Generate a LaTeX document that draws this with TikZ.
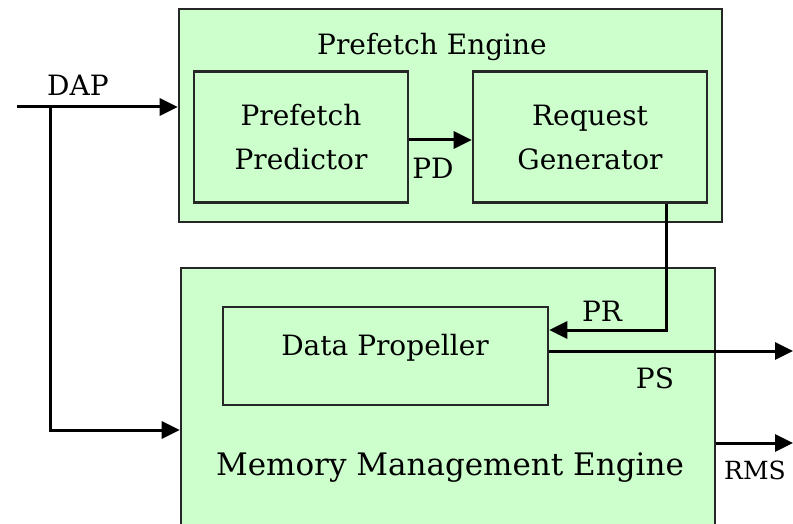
\documentclass[tikz,border=0pt]{standalone}
\usepackage{fontspec}
\setmainfont{DejaVu Serif}
\usetikzlibrary{arrows.meta}
\definecolor{boxgreen}{RGB}{204,255,204}
\tikzset{
  blk/.style={draw=black!85, line width=2.6pt, fill=boxgreen, inner sep=0pt},
  lbl/.style={font=\fontsize{28}{44}\selectfont, inner sep=0pt, align=center},
  arr/.style={line width=3pt, -{Triangle[length=18pt,width=17pt]}},
}
\begin{document}
\begin{tikzpicture}[x=1pt,y=-1pt]
\useasboundingbox (0,0) rectangle (793,524);
\clip (0,0) rectangle (793,524);
% outer blocks
\node[blk, minimum width=543pt, minimum height=213pt] (pe) at (450.5,115.5) {};
\node[blk, minimum width=534pt, minimum height=290pt] (mme) at (448,413) {};
% inner blocks
\node[blk, minimum width=214pt, minimum height=131pt, lbl] (pp) at (301,137) {Prefetch\\Predictor};
\node[blk, minimum width=234pt, minimum height=131pt, lbl] (rg) at (590,137) {Request\\Generator};
\node[blk, minimum width=325pt, minimum height=98pt] (dp) at (385.5,356) {};
% titles
\node[lbl] (pet) at (432,47) {Prefetch Engine};
\node[lbl] (dpt) at (385,348) {Data Propeller};
\node[lbl, font=\fontsize{31}{44}\selectfont] (mmet) at (450,468) {Memory Management Engine};
% coordinates
\coordinate (dapstart) at (17,107);
\coordinate (dapbranch) at (50,107);
\coordinate (dapbot) at (50,430);
\coordinate (prx) at (666,330);
\coordinate (psend) at (793,351);
\coordinate (rmsend) at (793,443);
% connectors
\draw[arr] (dapstart) -- (pe.west |- dapstart);
\draw[arr] (dapbranch) -- (dapbot) -- (mme.west |- dapbot);
\draw[arr] (pp.east |- 0,140) -- (rg.west |- 0,140);
\draw[arr] (rg.south -| prx) -- (prx) -- (dp.east |- prx);
\draw[arr] (dp.east |- psend) -- (psend);
\draw[arr] (mme.east |- rmsend) -- (rmsend);
% labels
\node[lbl] (dap) at (78,85) {DAP};
\node[lbl] (pd) at (433,168) {PD};
\node[lbl] (pr) at (602,311) {PR};
\node[lbl] (ps) at (655,378) {PS};
\node[lbl, anchor=west, font=\fontsize{25}{40}\selectfont] (rms) at (724,470) {RMS};
\end{tikzpicture}
\end{document}
